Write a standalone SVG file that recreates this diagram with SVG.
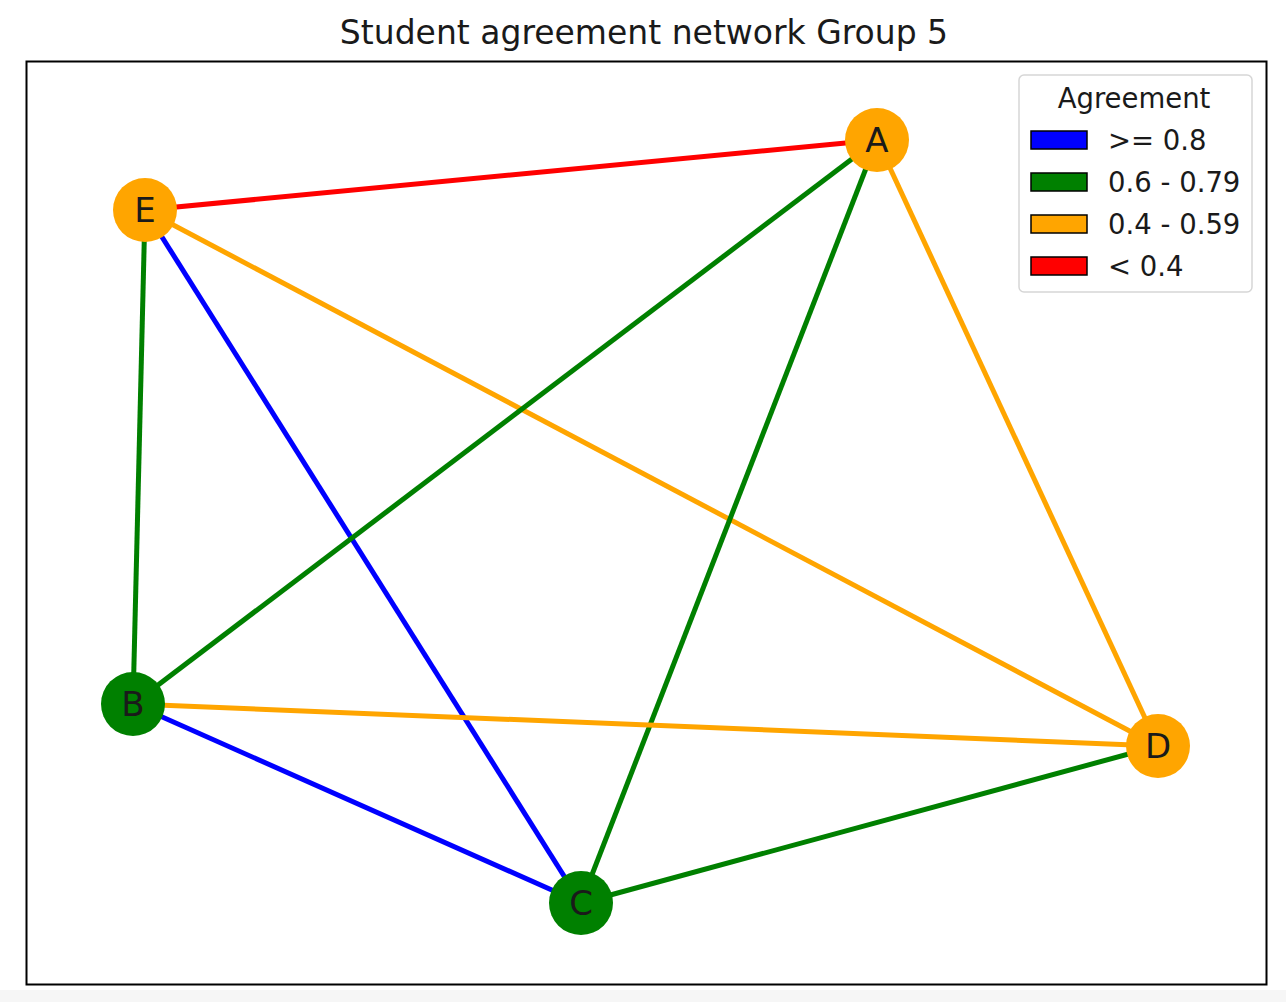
<svg xmlns="http://www.w3.org/2000/svg" width="1286" height="1002" viewBox="0 0 1286 1002">
<style>
text{font-family:"DejaVu Sans",sans-serif;fill:#1a1a1a}
.edge{stroke-width:5;fill:none}
.lbl{font-size:34px;text-anchor:middle;dominant-baseline:central}
.leg{font-size:27.5px}
.sw{stroke:#000;stroke-width:1.5}
</style>
<rect x="0" y="0" width="1286" height="1002" fill="#ffffff"/>
<rect x="0" y="990" width="1286" height="12" fill="#f6f6f6"/>
<text x="644" y="44" font-size="33" text-anchor="middle">Student agreement network Group 5</text>
<rect x="26.5" y="61.5" width="1240" height="923" fill="none" stroke="#000" stroke-width="2"/>
<g id="connectors">
<line class="edge" x1="145" y1="210" x2="877" y2="140" stroke="#ff0000"/>
<line class="edge" x1="145" y1="210" x2="133" y2="704" stroke="#008000"/>
<line class="edge" x1="145" y1="210" x2="581" y2="903" stroke="#0000ff"/>
<line class="edge" x1="145" y1="210" x2="1158" y2="746" stroke="#ffa500"/>
<line class="edge" x1="877" y1="140" x2="133" y2="704" stroke="#008000"/>
<line class="edge" x1="877" y1="140" x2="581" y2="903" stroke="#008000"/>
<line class="edge" x1="877" y1="140" x2="1158" y2="746" stroke="#ffa500"/>
<line class="edge" x1="133" y1="704" x2="1158" y2="746" stroke="#ffa500"/>
<line class="edge" x1="133" y1="704" x2="581" y2="903" stroke="#0000ff"/>
<line class="edge" x1="581" y1="903" x2="1158" y2="746" stroke="#008000"/>
</g>
<g id="node-A"><circle cx="877" cy="140" r="32" fill="#ffa500"/><text class="lbl" x="877" y="140">A</text></g>
<g id="node-E"><circle cx="145" cy="210" r="32" fill="#ffa500"/><text class="lbl" x="145" y="210">E</text></g>
<g id="node-B"><circle cx="133" cy="704" r="32" fill="#008000"/><text class="lbl" x="133" y="704">B</text></g>
<g id="node-C"><circle cx="581" cy="903" r="32" fill="#008000"/><text class="lbl" x="581" y="903">C</text></g>
<g id="node-D"><circle cx="1158" cy="746" r="32" fill="#ffa500"/><text class="lbl" x="1158" y="746">D</text></g>
<g id="legend">
<rect x="1019" y="75" width="233" height="217" rx="5" fill="#ffffff" fill-opacity="0.8" stroke="#d6d6d6" stroke-width="1.5"/>
<text x="1134" y="108" font-size="27.5" text-anchor="middle">Agreement</text>
<rect class="sw" x="1031" y="131" width="56" height="18" fill="#0000ff"/>
<text class="leg" x="1108" y="150">&gt;= 0.8</text>
<rect class="sw" x="1031" y="173" width="56" height="18" fill="#008000"/>
<text class="leg" x="1108" y="192">0.6 - 0.79</text>
<rect class="sw" x="1031" y="215" width="56" height="18" fill="#ffa500"/>
<text class="leg" x="1108" y="234">0.4 - 0.59</text>
<rect class="sw" x="1031" y="257" width="56" height="18" fill="#ff0000"/>
<text class="leg" x="1108" y="276">&lt; 0.4</text>
</g>
</svg>
